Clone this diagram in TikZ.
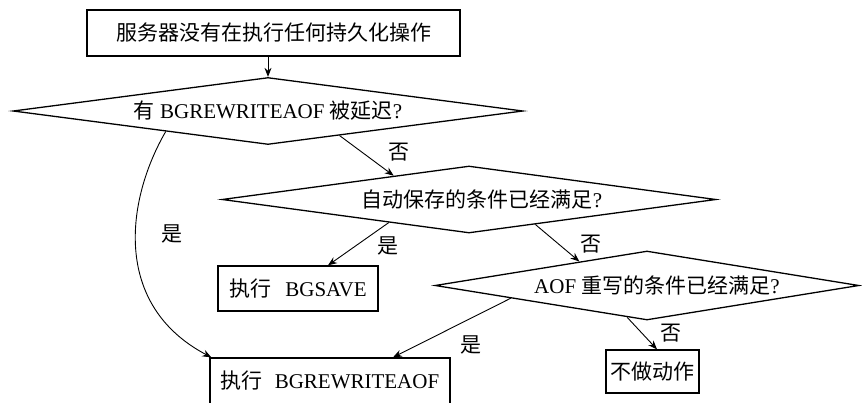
\documentclass[tikz,border=0pt]{standalone}
\usepackage{fontspec}
\setmainfont{Liberation Serif}
\newfontfamily\cjk{Noto Sans CJK SC}
\usetikzlibrary{arrows.meta,calc,shapes.geometric}
\newcommand{\zhtext}[1]{{\cjk #1}}
\begin{document}
\begin{tikzpicture}[x=1pt,y=-1pt,
  every node/.style={font=\fontsize{21pt}{25pt}\selectfont},
  box/.style={draw,line width=1.3pt,rectangle,inner sep=0pt},
  dia/.style={draw,line width=1.3pt,diamond,inner sep=0pt},
  arr/.style={line width=0.9pt,-{Stealth[length=9pt,width=7pt]}},
  lbl/.style={inner sep=0pt}]
\useasboundingbox[fill=white] (0,0) rectangle (862,402);

% boxes
\node[box,minimum width=373pt,minimum height=46pt] (start) at (273.5,33) {\zhtext{服务器没有在执行任何持久化操作}};
\node[box,minimum width=160pt,minimum height=45pt] (bgsave) at (298,288.5) {\zhtext{执行}\hspace{14pt}BGSAVE};
\node[box,minimum width=240pt,minimum height=46pt] (bgrw) at (330,381) {\zhtext{执行}\hspace{12pt}BGREWRITEAOF};
\node[box,minimum width=93pt,minimum height=43pt] (none) at (652.5,371.5) {\zhtext{不做动作}};

% diamonds
\node[dia,minimum width=510pt,minimum height=67pt] (d1) at (268,111) {};
\node (d1text) at (268,111) {\zhtext{有} BGREWRITEAOF \zhtext{被延迟}?};
\node[dia,minimum width=494pt,minimum height=67pt] (d2) at (469,199.5) {};
\node (d2text) at (482,199.5) {\zhtext{自动保存的条件已经满足}?};
\node[dia,minimum width=424pt,minimum height=69pt] (d3) at (647,285.5) {};
\node (d3text) at (657,285.5) {AOF \zhtext{重写的条件已经满足}?};

% connectors
\draw[arr] (d1.north |- start.south) -- (d1.north);
\draw[arr] ($(d1.south)!0.28!(d1.east)$) -- ($(d2.north)!0.304!(d2.west)$);
\draw[arr] ($(d1.south)!0.4!(d1.west)$) .. controls (126,200) and (112,305) .. ($(bgrw.north west)+(2,0)$);
\draw[arr] ($(d2.south)!0.324!(d2.west)$) -- ($(bgsave.north)+(30,0)$);
\draw[arr] ($(d2.south)!0.268!(d2.east)$) -- ($(d3.north)!0.318!(d3.west)$);
\draw[arr] ($(d3.south)!0.64!(d3.west)$) -- ($(bgrw.north)+(63,0)$);
\draw[arr] ($(d3.south)!0.093!(d3.west)$) -- ($(none.north)+(4.5,0)$);

% labels
\node[lbl] (l1) at (399,152) {\zhtext{否}};
\node[lbl] (l2) at (172,234) {\zhtext{是}};
\node[lbl] (l3) at (388,246) {\zhtext{是}};
\node[lbl] (l4) at (591,244) {\zhtext{否}};
\node[lbl] (l5) at (471,345) {\zhtext{是}};
\node[lbl] (l6) at (671,333) {\zhtext{否}};
\end{tikzpicture}
\end{document}
